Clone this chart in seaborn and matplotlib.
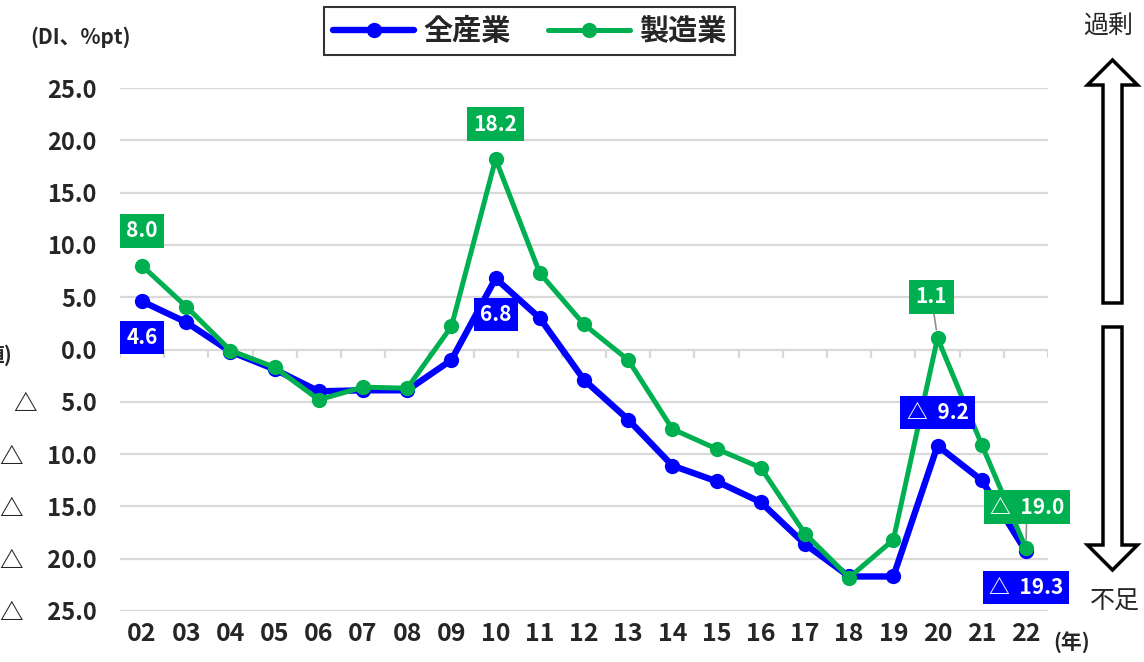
import pandas as pd
import matplotlib.pyplot as plt
from matplotlib.patches import FancyArrow
import seaborn as sns

# data (DI, %pt)
years = ['02', '03', '04', '05', '06', '07', '08', '09', '10', '11', '12',
         '13', '14', '15', '16', '17', '18', '19', '20', '21', '22']
all_industry = [4.6, 2.6, -0.2, -1.9, -4.0, -3.9, -3.9, -1.0, 6.8, 3.0, -2.9,
                -6.7, -11.1, -12.6, -14.6, -18.6, -21.7, -21.7, -9.2, -12.5, -19.3]
manufacturing = [8.0, 4.1, -0.1, -1.7, -4.8, -3.6, -3.7, 2.2, 18.2, 7.3, 2.4,
                 -1.0, -7.6, -9.5, -11.3, -17.6, -21.8, -18.2, 1.1, -9.1, -19.0]
series_names = ['全産業', '製造業']
y_ticks = [25, 20, 15, 10, 5, 0, -5, -10, -15, -20, -25]

BLUE = '#0000FF'
GREEN = '#00B050'


def fmt(v, gap='  '):
    return f'△{gap}{abs(v):.1f}' if v < 0 else f'{v:.1f}'


pos = list(range(len(years)))
df = pd.DataFrame({
    'pos': pos * 2,
    'value': all_industry + manufacturing,
    'series': [series_names[0]] * len(years) + [series_names[1]] * len(years),
})

sns.set_style('white')
plt.rcParams['font.family'] = ['Noto Sans CJK JP', 'DejaVu Sans']

fig = plt.figure(figsize=(11.44, 6.62), dpi=100)
ax = fig.add_axes([120 / 1144, 1 - 611 / 662, 928 / 1144, 523 / 662])

styles = {series_names[0]: (BLUE, 4.6), series_names[1]: (GREEN, 3.6)}
for name in series_names:
    color, lw = styles[name]
    sub = df[df['series'] == name]
    sns.lineplot(data=sub, x='pos', y='value', color=color, lw=lw, marker='o',
                 markersize=11, markeredgewidth=0, label=name, ax=ax,
                 clip_on=False, zorder=3)

ax.set_xlim(-0.5, len(years) - 0.5)
ax.set_ylim(-25, 25)
ax.set_yticks(y_ticks)
ax.set_yticklabels([fmt(v, '\u3000') for v in y_ticks], fontsize=17, fontweight='bold')
ax.set_xticks(pos)
ax.set_xticklabels(years, fontsize=18, fontweight='bold')
ax.tick_params(axis='y', length=0, pad=17)
ax.tick_params(axis='x', length=0, pad=8)
ax.set_xlabel('')
ax.set_ylabel('')
ax.grid(axis='y', color='#d9d9d9', lw=1.6)
ax.set_axisbelow(True)
for s in ax.spines.values():
    s.set_visible(False)
# small category-boundary ticks on the zero line
ax.vlines([p - 0.5 for p in pos] + [len(years) - 0.5], 0, -0.8, color='#d9d9d9', lw=1.6, zorder=1)

# data labels: (series values, colour, year, dx px, dy px, leader line)
labels = [
    (manufacturing, GREEN, '02', 0, 35, False),
    (all_industry, BLUE, '02', 0, -36, False),
    (manufacturing, GREEN, '10', 0, 35, False),
    (all_industry, BLUE, '10', 0, -36, False),
    (manufacturing, GREEN, '20', -6, 41, True),
    (all_industry, BLUE, '20', 0, 33, False),
    (manufacturing, GREEN, '22', 1, 41, True),
    (all_industry, BLUE, '22', 0, -36, False),
]
for vals, color, yr, dx, dy, leader in labels:
    i = years.index(yr)
    v = vals[i]
    arrow = dict(arrowstyle='-', color='#909090', lw=1.2, shrinkA=0, shrinkB=6) if leader else None
    ax.annotate(fmt(v), (i, v), xytext=(dx * 0.72, dy * 0.72), textcoords='offset points',
                ha='center', va='center', color='white', fontsize=15, fontweight='bold',
                bbox=dict(boxstyle='square,pad=0.3', fc=color, ec='none'),
                arrowprops=arrow, zorder=5, annotation_clip=False)

handles, names = ax.get_legend_handles_labels()
leg = fig.legend(handles, names, loc='center', bbox_to_anchor=(529.5 / 1144, 1 - 31 / 662),
                 ncol=2, frameon=True, fancybox=False, edgecolor='black', handlelength=2.8,
                 columnspacing=1.3, handletextpad=0.3, borderpad=0.3,
                 prop={'size': 21, 'weight': 'bold'})
leg.get_frame().set_linewidth(1.5)
if ax.get_legend() is not None:
    ax.get_legend().remove()

# overlay in pixel coordinates for the annotations around the plot
ov = fig.add_axes([0, 0, 1, 1], zorder=-1)
ov.set_xlim(0, 1144)
ov.set_ylim(662, 0)
ov.axis('off')
ov.text(80, 37, '(DI、%pt)', ha='center', va='center', fontsize=15, fontweight='bold')
ov.text(13, 355, '値)', ha='right', va='center', fontsize=15, fontweight='bold')
ov.text(1072, 643, '(年)', ha='center', va='center', fontsize=15, fontweight='bold')
ov.text(1108, 27, '過剰', ha='center', va='center', fontsize=18)
ov.text(1115, 602, '不足', ha='center', va='center', fontsize=18)
ov.add_patch(FancyArrow(1112.5, 303, 0, -243, width=19, head_width=50, head_length=25,
                        length_includes_head=True, fc='white', ec='black', lw=2.5))
ov.add_patch(FancyArrow(1112.5, 327, 0, 243, width=19, head_width=50, head_length=25,
                        length_includes_head=True, fc='white', ec='black', lw=2.5))

plt.savefig('out.png', dpi=100)
